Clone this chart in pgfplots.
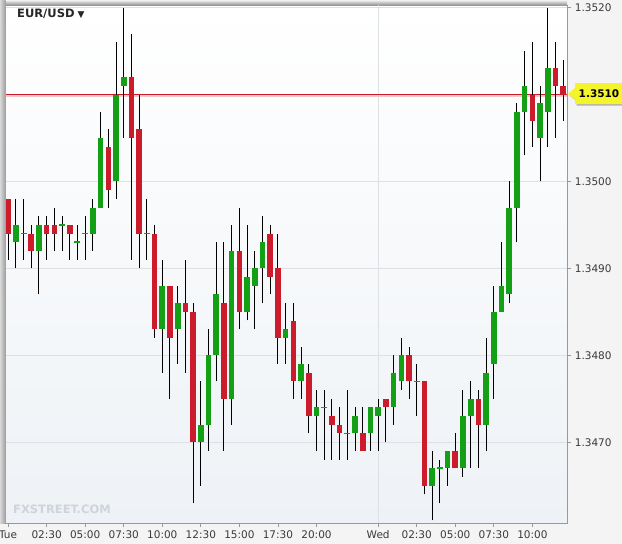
\documentclass[border=0pt]{standalone}
\usepackage{pgfplots}
\pgfplotsset{compat=1.18}
\usepackage{pgfplotstable}
\usepackage{fontspec}
\setmainfont{DejaVu Sans}
\definecolor{cgreen}{HTML}{14A014}
\definecolor{cred}{HTML}{CC1B2B}
\definecolor{gridc}{HTML}{DDE1E6}
\definecolor{outbg}{HTML}{F4F4F4}
\definecolor{plotbot}{HTML}{EEF2F6}
\definecolor{axisc}{HTML}{999999}
\definecolor{labc}{HTML}{3A3A3A}
\definecolor{pinkc}{HTML}{F3C9C9}
\definecolor{wmark}{HTML}{CFD4DA}
\definecolor{ylw}{HTML}{F4F42C}

\pgfplotstableread{
i O H L C
0 1.3498 1.3498 1.3491 1.3494
1 1.3493 1.3498 1.3490 1.3495
2 1.3494 1.3498 1.3491 1.3494
3 1.3494 1.3495 1.3490 1.3492
4 1.3492 1.3496 1.3487 1.3495
5 1.3495 1.3496 1.3491 1.3494
6 1.3495 1.3497 1.3492 1.3494
7 1.3495 1.3496 1.3492 1.3495
8 1.3495 1.3495 1.3491 1.3494
9 1.3493 1.3495 1.3491 1.3493
10 1.3494 1.3496 1.3491 1.3494
11 1.3494 1.3498 1.3492 1.3497
12 1.3497 1.3508 1.3497 1.3505
13 1.3504 1.3506 1.3497 1.3499
14 1.3500 1.3516 1.3498 1.3510
15 1.3511 1.3520 1.3505 1.3512
16 1.3512 1.3517 1.3491 1.3505
17 1.3506 1.3510 1.3490 1.3494
18 1.3494 1.3498 1.3491 1.3494
19 1.3494 1.3495 1.3482 1.3483
20 1.3483 1.3491 1.3478 1.3488
21 1.3488 1.3488 1.3475 1.3482
22 1.3483 1.3488 1.3479 1.3486
23 1.3486 1.3491 1.3478 1.3485
24 1.3485 1.3486 1.3463 1.3470
25 1.3470 1.3477 1.3465 1.3472
26 1.3472 1.3483 1.3469 1.3480
27 1.3480 1.3493 1.3477 1.3487
28 1.3486 1.3493 1.3469 1.3475
29 1.3475 1.3495 1.3472 1.3492
30 1.3492 1.3497 1.3483 1.3485
31 1.3485 1.3495 1.3484 1.3489
32 1.3488 1.3492 1.3483 1.3490
33 1.3490 1.3496 1.3486 1.3493
34 1.3494 1.3495 1.3487 1.3489
35 1.3490 1.3494 1.3479 1.3482
36 1.3482 1.3486 1.3479 1.3483
37 1.3484 1.3486 1.3475 1.3477
38 1.3477 1.3481 1.3475 1.3479
39 1.3478 1.3479 1.3471 1.3473
40 1.3473 1.3476 1.3469 1.3474
41 1.3474 1.3476 1.3468 1.3474
42 1.3473 1.3475 1.3468 1.3472
43 1.3472 1.3474 1.3468 1.3471
44 1.3471 1.3476 1.3468 1.3471
45 1.3471 1.3474 1.3469 1.3473
46 1.3471 1.3474 1.3469 1.3469
47 1.3471 1.3474 1.3469 1.3474
48 1.3473 1.3475 1.3469 1.3474
49 1.3475 1.3475 1.3470 1.3474
50 1.3474 1.3480 1.3472 1.3478
51 1.3477 1.3482 1.3476 1.3480
52 1.3480 1.3481 1.3475 1.3477
53 1.3477 1.3479 1.3473 1.3477
54 1.3477 1.3477 1.3464 1.3465
55 1.3465 1.3469 1.3461 1.3467
56 1.3467 1.3468 1.3463 1.3467
57 1.3467 1.3469 1.3465 1.3469
58 1.3469 1.3471 1.3467 1.3467
59 1.3467 1.3476 1.3466 1.3473
60 1.3473 1.3477 1.3467 1.3475
61 1.3475 1.3476 1.3467 1.3472
62 1.3472 1.3482 1.3469 1.3478
63 1.3479 1.3488 1.3475 1.3485
64 1.3485 1.3493 1.3485 1.3488
65 1.3487 1.3500 1.3486 1.3497
66 1.3497 1.3509 1.3493 1.3508
67 1.3508 1.3515 1.3503 1.3511
68 1.3510 1.3516 1.3504 1.3507
69 1.3505 1.3511 1.3500 1.3509
70 1.3508 1.3520 1.3504 1.3513
71 1.3513 1.3516 1.3505 1.3511
72 1.3511 1.3514 1.3507 1.3510
}\candles

\begin{document}
\begin{tikzpicture}
\useasboundingbox (0,0) rectangle (622bp,-544bp);
\fill[outbg] (0,0) rectangle (622bp,-544bp);
\begin{axis}[
  at={(5bp,-5bp)}, anchor=north west,
  scale only axis, width=562.3bp, height=518bp,
  xmin=-0.40, xmax=72.53, ymin=1.34607, ymax=1.35203,
  axis background/.style={shade, top color=white, bottom color=plotbot},
  axis line style={axisc},
  clip=false,
  tick align=outside, major tick length=4bp,
  tick style={axisc, line width=0.8bp},
  xtick pos=left, ytick pos=right,
  xticklabel pos=left, yticklabel pos=right,
  xtick={0,5,10,15,20,25,30,35,40,48,53,58,63,68},
  xticklabels={Tue,02:30,05:00,07:30,10:00,12:30,15:00,17:30,20:00,Wed,02:30,05:00,07:30,10:00},
  ytick={1.347,1.348,1.349,1.350,1.352},
  yticklabels={1.3470,1.3480,1.3490,1.3500,1.3520},
  ymajorgrids, grid style={gridc, line width=0.8bp},
  ticklabel style={font=\fontsize{10.5bp}{12bp}\selectfont, text=labc},
  /pgf/number format/assume math mode=true,
]
\draw[gridc, line width=0.8bp] (axis cs:48,1.34607) -- (axis cs:48,1.35203);
\draw[pinkc, line width=1.6bp] ([yshift=-1.6bp]axis cs:-0.40,1.3510) -- ([yshift=-1.6bp]axis cs:72.53,1.3510);
\draw[cred, line width=1bp] (axis cs:-0.40,1.3510) -- (axis cs:72.53,1.3510);
% wicks
\addplot[draw=none, mark=none, forget plot,
  error bars/.cd, y dir=plus, y explicit, error mark=none,
  error bar style={line width=1bp, draw=black}]
  table[x=i, y=L, y error plus expr=\thisrow{H}-\thisrow{L}] {\candles};
% rising bodies
\addplot[draw=none, mark=none, forget plot,
  restrict expr to domain={\thisrow{C}-\thisrow{O}}{0.00001:1},
  error bars/.cd, y dir=plus, y explicit, error mark=none,
  error bar style={line width=5.6bp, draw=cgreen}]
  table[x=i, y=O, y error plus expr=\thisrow{C}-\thisrow{O}] {\candles};
% falling bodies
\addplot[draw=none, mark=none, forget plot,
  restrict expr to domain={\thisrow{O}-\thisrow{C}}{0.00001:1},
  error bars/.cd, y dir=plus, y explicit, error mark=none,
  error bar style={line width=5.6bp, draw=cred}]
  table[x=i, y=C, y error plus expr=\thisrow{O}-\thisrow{C}] {\candles};
% doji
\addplot[only marks, mark=-, mark size=3bp, forget plot,
  mark options={draw=cgreen, line width=1.6bp},
  restrict expr to domain={\thisrow{C}-\thisrow{O}}{-0.00001:0.00001}]
  table[x=i, y=O] {\candles};
\end{axis}
% frame decorations
\shade[top color=white!90!gray, bottom color=black!38] (0,0) rectangle (567bp,-4.5bp);
\shade[left color=black!15, right color=black!38] (0,0) rectangle (5.5bp,-523bp);
% watermark and title
\node[anchor=west, inner sep=0, text=wmark, font=\fontsize{11.5bp}{13bp}\selectfont\bfseries] at (13bp,-509bp) {FXSTREET.COM};
\node[anchor=west, inner sep=0, text=black!85, font=\fontsize{11.5bp}{13bp}\selectfont\bfseries] at (17bp,-13.5bp) {EUR/USD\hspace{3bp}{\fontsize{9bp}{10bp}\selectfont ▼}};
% current price label
\fill[black!30] (569.5bp,-95.5bp) -- (576.5bp,-89.5bp) -- (576.5bp,-84.5bp) -- (623bp,-84.5bp) -- (623bp,-105.5bp) -- (576.5bp,-105.5bp) -- (576.5bp,-101.5bp) -- cycle;
\fill[ylw] (568bp,-94bp) -- (575bp,-88bp) -- (575bp,-83bp) -- (622bp,-83bp) -- (622bp,-104bp) -- (575bp,-104bp) -- (575bp,-100bp) -- cycle;
\node[inner sep=0, font=\fontsize{10.5bp}{12bp}\selectfont\bfseries, text=black] at (599bp,-94bp) {1.3510};
\end{tikzpicture}
\end{document}
